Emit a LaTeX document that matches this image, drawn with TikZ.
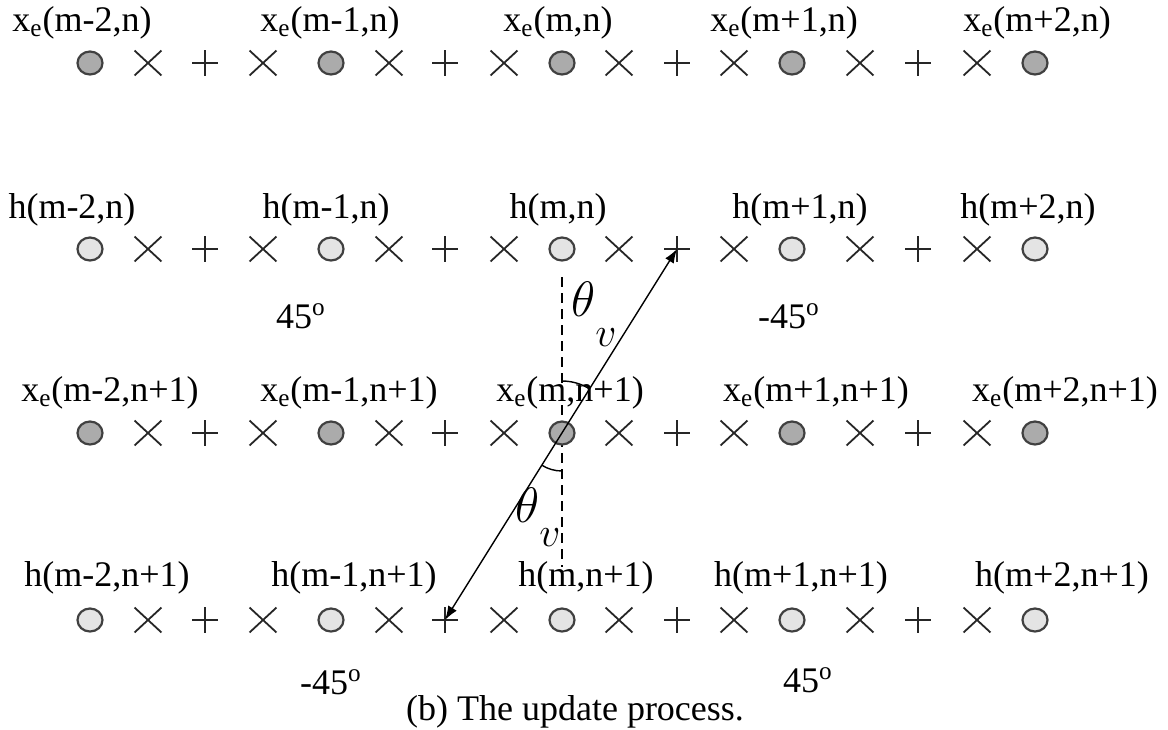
\documentclass[tikz,border=0pt]{standalone}
\usepackage{fontspec}
\setmainfont{Liberation Serif}
\usetikzlibrary{shapes.geometric,shapes.misc,arrows.meta}
\definecolor{dotdark}{HTML}{ABABAB}
\definecolor{dotlight}{HTML}{E4E4E4}

\begin{document}
\begin{tikzpicture}[x=0.5pt, y=-0.5pt,
  every node/.style={font=\fontsize{18}{21}\selectfont, inner sep=1pt},
  kdot/.style={ellipse, draw=black!75, line width=1.1pt, fill=#1,
    minimum width=12.5pt, minimum height=11.5pt, inner sep=0pt},
  kcross/.style={cross out, draw=black!85, line width=0.9pt,
    minimum width=12.5pt, minimum height=11.5pt, inner sep=0pt},
  kplus/.style={minimum size=13pt, inner sep=0pt,
    path picture={\draw[black!85, line width=0.9pt]
      (path picture bounding box.north) -- (path picture bounding box.south)
      (path picture bounding box.west) -- (path picture bounding box.east);}},
  thlabel/.style={font=\fontsize{26}{28}\selectfont}]
\useasboundingbox (0,0) rectangle (1168,729);

% vertical reference line through x_e(m,n+1)
\coordinate (vtop) at (562,277);
\coordinate (vbot) at (562,567);
\draw[dashed, dash pattern=on 5pt off 3pt, line width=0.8pt] (vtop) -- (vbot);

% Sample rows: circles = samples, x and + = in-between positions
\foreach \r/\y/\f in {1/63/dotdark, 2/249/dotlight, 3/433/dotdark, 4/620/dotlight}
  \foreach \c/\x/\k in {1/90/kdot, 2/148/kcross, 3/205/kplus, 4/263/kcross,
      5/331/kdot, 6/389/kcross, 7/445/kplus, 8/504/kcross, 9/562/kdot,
      10/619/kcross, 11/677/kplus, 12/734/kcross, 13/792/kdot,
      14/860/kcross, 15/918/kplus, 16/977/kcross, 17/1035/kdot}
    \node[\k=\f] (r\r-\c) at (\x,\y) {};

% Row 1 (top): x_e(., n)
\node (xa1) at (82, 23) {x\textsubscript{e}(m-2,n)};
\node (xa2) at (330, 23) {x\textsubscript{e}(m-1,n)};
\node (xa3) at (558, 23) {x\textsubscript{e}(m,n)};
\node (xa4) at (784, 23) {x\textsubscript{e}(m+1,n)};
\node (xa5) at (1037, 23) {x\textsubscript{e}(m+2,n)};
% Row 2: h(., n)
\node (ha1) at (72, 210) {h(m-2,n)};
\node (ha2) at (326, 210) {h(m-1,n)};
\node (ha3) at (558, 210) {h(m,n)};
\node (ha4) at (800, 210) {h(m+1,n)};
\node (ha5) at (1028, 210) {h(m+2,n)};
% Row 3: x_e(., n+1)
\node (xb1) at (110, 393) {x\textsubscript{e}(m-2,n+1)};
\node (xb2) at (349, 393) {x\textsubscript{e}(m-1,n+1)};
\node (xb3) at (570, 393) {x\textsubscript{e}(m,n+1)};
\node (xb4) at (816, 393) {x\textsubscript{e}(m+1,n+1)};
\node (xb5) at (1065, 393) {x\textsubscript{e}(m+2,n+1)};
% Row 4: h(., n+1)
\node (hb1) at (107, 578) {h(m-2,n+1)};
\node (hb2) at (354, 578) {h(m-1,n+1)};
\node (hb3) at (586, 578) {h(m,n+1)};
\node (hb4) at (801, 578) {h(m+1,n+1)};
\node (hb5) at (1062, 578) {h(m+2,n+1)};

% Direction labels
\node (dega) at (301, 316) {45\textsuperscript{o}};
\node (degb) at (789, 316) {-45\textsuperscript{o}};
\node (degc) at (331, 682) {-45\textsuperscript{o}};
\node (degd) at (808, 680) {45\textsuperscript{o}};

% Update direction through x_e(m,n+1)
\draw[{Latex[length=7pt,width=5pt]}-{Latex[length=7pt,width=5pt]}, line width=0.7pt]
  (r4-7.center) -- (r2-11.center);
\draw[line width=0.7pt] (r3-9.center) ++(-90:52) arc[start angle=-90, end angle=-58, radius=52];
\draw[line width=0.7pt] (r3-9.center) ++(90:38) arc[start angle=90, end angle=122, radius=38];
\node[thlabel] (tha) at (594, 314) {$\theta$\raisebox{-15pt}{\fontsize{20}{22}\selectfont$v$}};
\node[thlabel] (thb) at (538, 517) {$\theta$\raisebox{-12pt}{\fontsize{20}{22}\selectfont$v$}};

% Caption
\node (cap) at (575, 712) {(b) The update process.};
\end{tikzpicture}
\end{document}
